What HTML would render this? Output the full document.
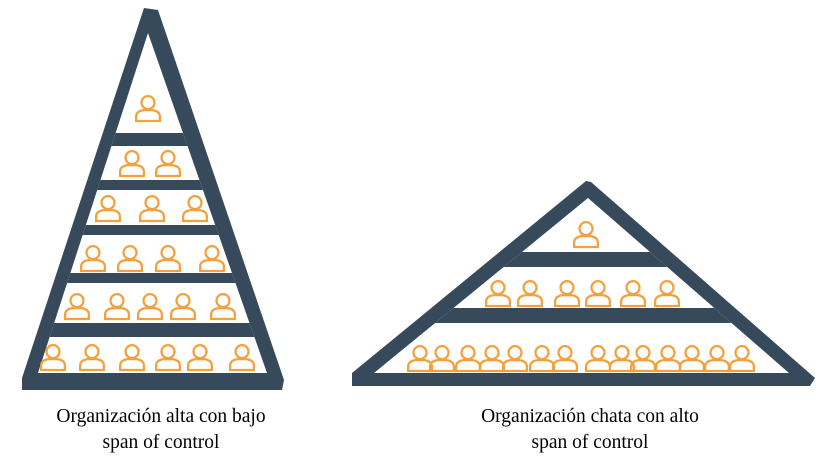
<!DOCTYPE html>
<html><head><meta charset="utf-8"><style>
html,body{margin:0;padding:0;background:#fff;}
svg{display:block;}
</style></head><body>
<svg width="839" height="460" viewBox="0 0 839 460" xmlns="http://www.w3.org/2000/svg">
<defs>
<g id="p" fill="none" stroke="#f4a03c" stroke-width="2.1" transform="scale(1.08)">
<circle cx="0" cy="-5" r="6"/>
<path d="M-11,12 V8 Q-11,3 -4,2 L4,2 Q11,3 11,8 V12 Z"/>
</g>
<clipPath id="cl"><polygon points="148,33 38,373 267,373"/></clipPath>
<clipPath id="cr"><polygon points="588,198 374,373 789,373"/></clipPath>
</defs>
<polygon points="144,8 158,10 284,380 282,390 22,390 22,378" fill="#374a5c"/>
<polygon points="148,33 38,373 267,373" fill="#fff"/>
<g clip-path="url(#cl)" fill="#374a5c">
<rect x="0" y="133" width="400" height="13"/>
<rect x="0" y="180" width="400" height="10"/>
<rect x="0" y="225" width="400" height="10"/>
<rect x="0" y="273" width="400" height="10"/>
<rect x="0" y="323" width="400" height="14"/>
</g>
<use href="#p" x="148" y="108"/>
<use href="#p" x="132" y="163"/><use href="#p" x="168" y="163"/>
<use href="#p" x="108" y="208"/><use href="#p" x="152" y="208"/><use href="#p" x="195" y="208"/>
<use href="#p" x="93" y="258"/><use href="#p" x="130" y="258"/><use href="#p" x="168" y="258"/><use href="#p" x="212" y="258"/>
<use href="#p" x="77" y="306"/><use href="#p" x="117" y="306"/><use href="#p" x="150" y="306"/><use href="#p" x="183" y="306"/><use href="#p" x="223" y="306"/>
<use href="#p" x="53" y="357"/><use href="#p" x="92" y="357"/><use href="#p" x="132" y="357"/><use href="#p" x="168" y="357"/><use href="#p" x="200" y="357"/><use href="#p" x="242" y="357"/>
<polygon points="586,181 591,182 815,378 810,386 352,386 352,373" fill="#374a5c"/>
<polygon points="588,198 374,373 789,373" fill="#fff"/>
<g clip-path="url(#cr)" fill="#374a5c">
<rect x="300" y="252" width="600" height="15"/>
<rect x="300" y="308" width="600" height="15"/>
</g>
<use href="#p" x="586" y="234"/>
<use href="#p" x="498" y="293"/><use href="#p" x="530" y="293"/><use href="#p" x="567" y="293"/><use href="#p" x="598" y="293"/><use href="#p" x="633" y="293"/><use href="#p" x="667" y="293"/>
<use href="#p" x="420" y="358"/><use href="#p" x="442" y="358"/><use href="#p" x="468" y="358"/><use href="#p" x="492" y="358"/><use href="#p" x="515" y="358"/><use href="#p" x="542" y="358"/><use href="#p" x="565" y="358"/><use href="#p" x="598" y="358"/><use href="#p" x="622" y="358"/><use href="#p" x="643" y="358"/><use href="#p" x="668" y="358"/><use href="#p" x="692" y="358"/><use href="#p" x="717" y="358"/><use href="#p" x="742" y="358"/>
<g font-family="Liberation Serif, serif" font-size="19.5" fill="#000" text-anchor="middle">
<text x="161" y="422">Organización alta con bajo</text>
<text x="161" y="448">span of control</text>
<text x="590" y="422">Organización chata con alto</text>
<text x="590" y="448">span of control</text>
</g>
</svg>
</body></html>
